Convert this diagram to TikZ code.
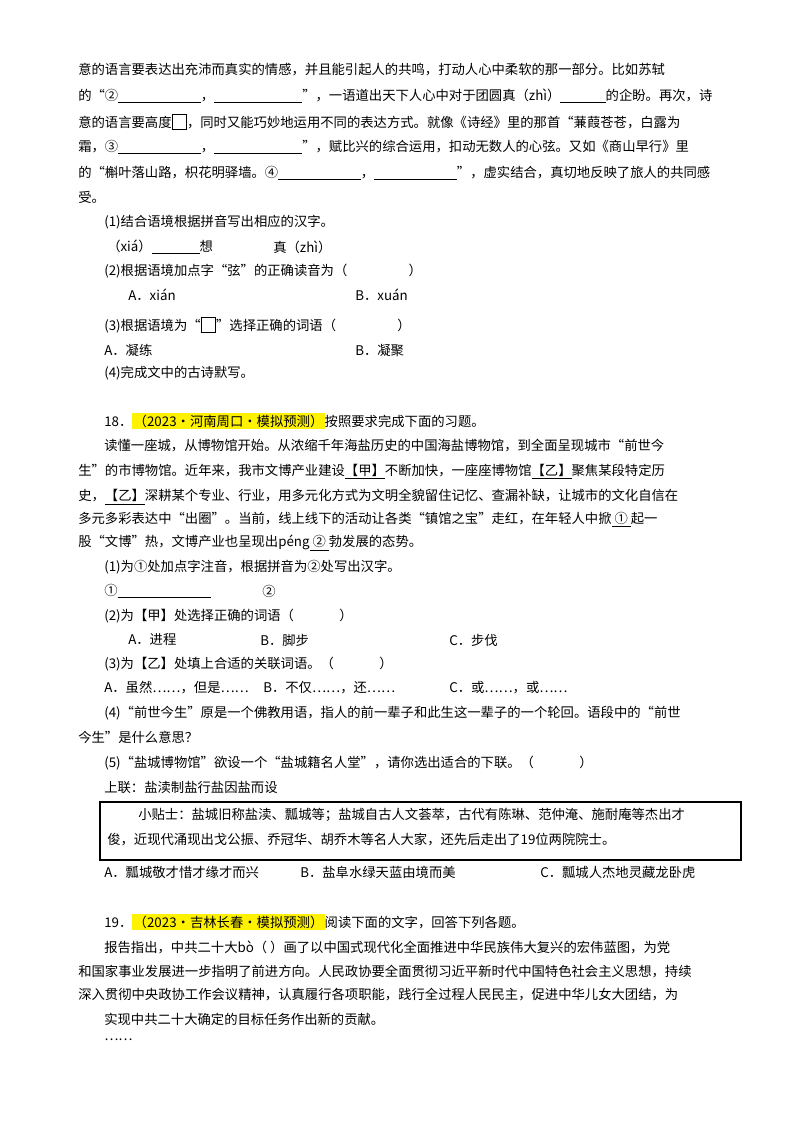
\documentclass[tikz,border=0pt]{standalone}
\usepackage{fontspec}
\setmainfont{Noto Sans CJK SC}
\newcommand{\blk}[1]{\underline{\hspace{#1pt}}}
\newcommand{\sqbox}{{\setlength{\fboxsep}{0pt}\setlength{\fboxrule}{0.8pt}\raisebox{-1pt}{\fbox{\rule{0pt}{10pt}\hspace{10pt}}}}}
\newcommand{\hl}[1]{{\setlength{\fboxsep}{1pt}\colorbox{yellow}{#1}}}
\tikzset{ln/.style={anchor=west,inner sep=0pt,font=\fontsize{10}{12}\selectfont}}
\begin{document}
\begin{tikzpicture}[x=0.75pt,y=-0.75pt]
\useasboundingbox (0,0) rectangle (800,1134);
\node[ln] (a1) at (78,70) {意的语言要表达出充沛而真实的情感，并且能引起人的共鸣，打动人心中柔软的那一部分。比如苏轼};
\node[ln] (a2) at (78,96) {的“②\blk{62}，\blk{66}”，一语道出天下人心中对于团圆真（zhì）\blk{34}的企盼。再次，诗};
\node[ln] (a3) at (78,122) {意的语言要高度\sqbox，同时又能巧妙地运用不同的表达方式。就像《诗经》里的那首“蒹葭苍苍，白露为};
\node[ln] (a4) at (78,147) {霜，③\blk{62}，\blk{66}”，赋比兴的综合运用，扣动无数人的心弦。又如《商山早行》里};
\node[ln] (a5) at (78,173) {的“槲叶落山路，枳花明驿墙。④\blk{62}，\blk{62}”，虚实结合，真切地反映了旅人的共同感};
\node[ln] (a6) at (78,197) {受。};
\node[ln] (q1) at (104,222) {(1)结合语境根据拼音写出相应的汉字。};
\node[ln] (q1a) at (107,247) {（xiá）\blk{36}想};
\node[ln] (q1b) at (273,247) {真（zhì）};
\node[ln] (q2) at (104,271) {(2)根据语境加点字“弦”的正确读音为（\hspace{46pt}）};
\node[ln] (q2a) at (128,295) {A．xián};
\node[ln] (q2b) at (355,295) {B．xuán};
\node[ln] (q3) at (104,325) {(3)根据语境为“\sqbox”选择正确的词语（\hspace{46pt}）};
\node[ln] (q3a) at (104,350) {A．凝练};
\node[ln] (q3b) at (355,350) {B．凝聚};
\node[ln] (q4) at (104,373) {(4)完成文中的古诗默写。};
\node[ln] (t18) at (104,421) {18．\hl{（2023•河南周口•模拟预测）}按照要求完成下面的习题。};
\node[ln] (b1) at (104,446) {读懂一座城，从博物馆开始。从浓缩千年海盐历史的中国海盐博物馆，到全面呈现城市“前世今};
\node[ln] (b2) at (78,472) {生”的市博物馆。近年来，我市文博产业建设\underline{【甲】}不断加快，一座座博物馆\underline{【乙】}聚焦某段特定历};
\node[ln] (b3) at (78,497) {史，\underline{【乙】}深耕某个专业、行业，用多元化方式为文明全貌留住记忆、查漏补缺，让城市的文化自信在};
\node[ln] (b4) at (78,520) {多元多彩表达中“出圈”。当前，线上线下的活动让各类“镇馆之宝”走红，在年轻人中掀\underline{\ ①\ }起一};
\node[ln] (b5) at (78,543) {股“文博”热，文博产业也呈现出péng\underline{\ ②\ }勃发展的态势。};
\node[ln] (r1) at (104,567) {(1)为①处加点字注音，根据拼音为②处写出汉字。};
\node[ln] (r1a) at (104,591) {①\blk{70}};
\node[ln] (r1b) at (262,591) {②};
\node[ln] (r2) at (104,616) {(2)为【甲】处选择正确的词语（\hspace{34pt}）};
\node[ln] (r2a) at (128,640) {A．进程};
\node[ln] (r2b) at (260,640) {B．脚步};
\node[ln] (r2c) at (449,640) {C．步伐};
\node[ln] (r3) at (104,664) {(3)为【乙】处填上合适的关联词语。（\hspace{34pt}）};
\node[ln] (r3a) at (104,688) {A．虽然……，但是……};
\node[ln] (r3b) at (263,688) {B．不仅……，还……};
\node[ln] (r3c) at (449,688) {C．或……，或……};
\node[ln] (r4) at (104,713) {(4)“前世今生”原是一个佛教用语，指人的前一辈子和此生这一辈子的一个轮回。语段中的“前世};
\node[ln] (r4b) at (78,737) {今生”是什么意思？};
\node[ln] (r5) at (104,763) {(5)“盐城博物馆”欲设一个“盐城籍名人堂”，请你选出适合的下联。（\hspace{34pt}）};
\node[ln] (r5a) at (104,787) {上联：盐渎制盐行盐因盐而设};
\draw[line width=0.9pt] (100,802) rectangle (741,860);
\node[ln] (tip1) at (138,815) {小贴士：盐城旧称盐渎、瓢城等；盐城自古人文荟萃，古代有陈琳、范仲淹、施耐庵等杰出才};
\node[ln] (tip2) at (107,840) {俊，近现代涌现出戈公振、乔冠华、胡乔木等名人大家，还先后走出了19位两院院士。};
\node[ln] (o1) at (104,872) {A．瓢城敬才惜才缘才而兴};
\node[ln] (o2) at (300,872) {B．盐阜水绿天蓝由境而美};
\node[ln] (o3) at (540,872) {C．瓢城人杰地灵藏龙卧虎};
\node[ln] (t19) at (104,922) {19．\hl{（2023•吉林长春•模拟预测）}阅读下面的文字，回答下列各题。};
\node[ln] (c1) at (104,947) {报告指出，中共二十大bò（\ ）画了以中国式现代化全面推进中华民族伟大复兴的宏伟蓝图，为党};
\node[ln] (c2) at (78,972) {和国家事业发展进一步指明了前进方向。人民政协要全面贯彻习近平新时代中国特色社会主义思想，持续};
\node[ln] (c3) at (78,995) {深入贯彻中央政协工作会议精神，认真履行各项职能，践行全过程人民民主，促进中华儿女大团结，为};
\node[ln] (c4) at (104,1019) {实现中共二十大确定的目标任务作出新的贡献。};
\node[ln] (c5) at (104,1040) {……};
\end{tikzpicture}
\end{document}
